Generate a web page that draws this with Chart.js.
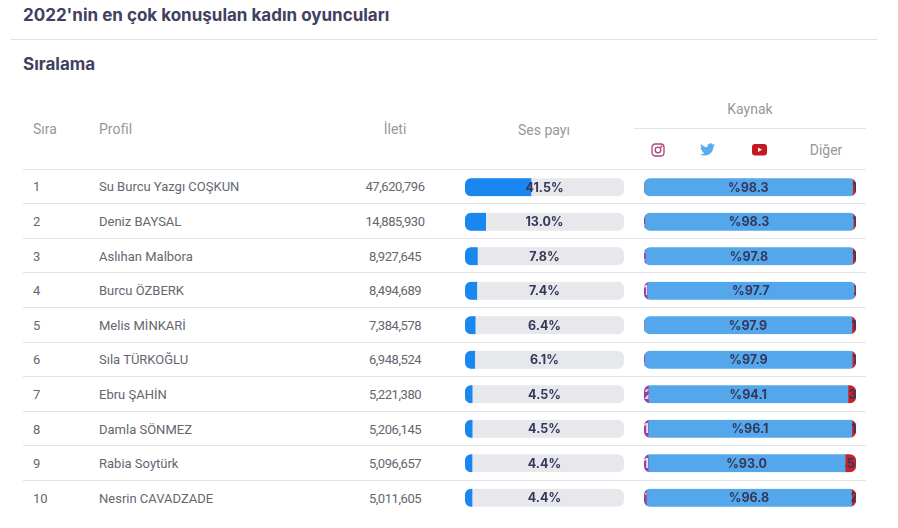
<!DOCTYPE html>
<html lang="tr">
<head>
<meta charset="utf-8">
<title>2022'nin en çok konuşulan kadın oyuncuları</title>
<script src="https://cdn.jsdelivr.net/npm/chart.js@4"></script>
<style>
  html, body { margin: 0; padding: 0; background: #fff; }
  #page { position: relative; width: 898px; height: 528px; overflow: hidden; font-family: Roboto, sans-serif; }
  #page > div, #page > svg, #page > canvas { position: absolute; }
  .heading { font-family: Inter, sans-serif; font-weight: 700; color: #3f4160; white-space: nowrap; font-size: 17px; line-height: 20px; }
  .head { font-size: 14px; color: #97979c; transform: translate(-50%, -50%); white-space: nowrap; }
  .head.left { transform: translate(0, -50%); }
  .cell { font-size: 13px; color: #666670; transform: translate(0, -50%); white-space: nowrap; }
  .cell.mid { transform: translate(-50%, -50%); letter-spacing: -0.45px; }
  .rule { background: #e2e2e4; height: 1px; }
</style>
</head>
<body>
<div id="page">
  <div class="heading" style="left:23px;top:5px">2022'nin en çok konuşulan kadın oyuncuları</div>
  <div class="rule" style="left:11px;top:39px;width:866px"></div>
  <div class="heading" style="left:23px;top:54px">Sıralama</div>

  <div class="head left" style="left:33px;top:129px">Sıra</div>
  <div class="head left" style="left:99px;top:129px">Profil</div>
  <div class="head" style="left:395px;top:129px">İleti</div>
  <div class="head" style="left:544px;top:130px">Ses payı</div>
  <div class="head" style="left:750px;top:109px">Kaynak</div>
  <div class="rule" style="left:634px;top:128px;width:232px"></div>
  <div class="head" style="left:826px;top:150px">Diğer</div>

  <svg style="left:651px;top:143px" width="14" height="14" viewBox="0 0 14 14" fill="none" stroke="#a8467f" stroke-width="1.3">
    <rect x="1" y="1" width="12" height="12" rx="3.2"/><circle cx="7" cy="7" r="2.8"/><circle cx="10.4" cy="3.6" r="0.5"/>
  </svg>
  <svg style="left:700px;top:142px" width="15" height="15" viewBox="0 0 24 24" fill="#55acee">
    <path d="M23.953 4.57a10 10 0 01-2.825.775 4.958 4.958 0 002.163-2.723c-.951.555-2.005.959-3.127 1.184a4.92 4.92 0 00-8.384 4.482C7.69 8.095 4.067 6.13 1.64 3.162a4.822 4.822 0 00-.666 2.475c0 1.71.87 3.213 2.188 4.096a4.904 4.904 0 01-2.228-.616v.06a4.923 4.923 0 003.946 4.827 4.996 4.996 0 01-2.212.085 4.936 4.936 0 004.604 3.417 9.867 9.867 0 01-6.102 2.105c-.39 0-.779-.023-1.17-.067a13.995 13.995 0 007.557 2.209c9.053 0 13.998-7.496 13.998-13.985 0-.21 0-.42-.015-.63A9.935 9.935 0 0024 4.59z"/>
  </svg>
  <svg style="left:752px;top:144px" width="15" height="12" viewBox="0 0 15 12">
    <rect x="0" y="0" width="15" height="11.5" rx="3" fill="#c4191f"/><path d="M6 3.4 L10 5.75 L6 8.1 Z" fill="#fff"/>
  </svg>

  <canvas id="share-chart" width="159" height="345" style="left:465px;top:170px"></canvas>
  <canvas id="source-chart" width="212" height="345" style="left:644px;top:170px"></canvas>
</div>

<script>
const ranks = [1, 2, 3, 4, 5, 6, 7, 8, 9, 10];
const profiles = ['Su Burcu Yazgı COŞKUN', 'Deniz BAYSAL', 'Aslıhan Malbora', 'Burcu ÖZBERK', 'Melis MİNKARİ',
    'Sıla TÜRKOĞLU', 'Ebru ŞAHİN', 'Damla SÖNMEZ', 'Rabia Soytürk', 'Nesrin CAVADZADE'];
const posts = ['47,620,796', '14,885,930', '8,927,645', '8,494,689', '7,384,578',
    '6,948,524', '5,221,380', '5,206,145', '5,096,657', '5,011,605'];
const shareValues = [41.5, 13.0, 7.8, 7.4, 6.4, 6.1, 4.5, 4.5, 4.4, 4.4];
const shareTrack = [100, 100, 100, 100, 100, 100, 100, 100, 100, 100];
const instagramValues = [0.05, 0.4, 0.6, 1.5, 0.1, 0.3, 2.1, 1.9, 1.9, 1.1];
const twitterValues = [98.3, 98.3, 97.8, 97.7, 97.9, 97.9, 94.1, 96.1, 93.0, 96.8];
const youtubeValues = [1.6, 1.2, 1.5, 0.7, 1.9, 1.7, 3.7, 1.9, 5.0, 2.0];
const otherValues = [0.05, 0.1, 0.1, 0.1, 0.1, 0.1, 0.1, 0.1, 0.1, 0.1];

const rowTop = 169.5;
const rowHeight = 34.6;
const barFont = '700 12.5px Inter, sans-serif';
const barText = '#35375a';

// table text and row lines
const page = document.getElementById('page');
function addDiv(cls, left, top, text) {
    const d = document.createElement('div');
    d.className = cls;
    d.style.left = left + 'px';
    d.style.top = top + 'px';
    if (text !== undefined) d.textContent = text;
    page.appendChild(d);
    return d;
}
ranks.forEach(function(r, i) {
    const mid = rowTop + rowHeight * (i + 0.5) - 0.5;
    addDiv('rule', 23, Math.round(rowTop + rowHeight * i) - 1).style.width = '843px';
    addDiv('cell', 33, mid, r);
    addDiv('cell', 99, mid, profiles[i]);
    addDiv('cell mid', 395, mid, posts[i]);
});

function hiddenScales(stacked) {
    return {
        x: { display: false, min: 0, max: 100, stacked: stacked },
        y: { display: false, stacked: stacked }
    };
}

// every row is clipped to one rounded pill
function clipToPills(chart) {
    const ctx = chart.ctx;
    const x = chart.scales.x;
    const y = chart.scales.y;
    ctx.save();
    ctx.beginPath();
    ranks.forEach(function(r, i) {
        ctx.roundRect(x.getPixelForValue(0), y.getPixelForValue(i) - 9, x.getPixelForValue(100) - x.getPixelForValue(0), 18, 6);
    });
    ctx.clip();
}

// percentage text in the middle of the share bars
const shareLabels = {
    id: 'shareLabels',
    beforeDatasetsDraw: clipToPills,
    afterDatasetsDraw: function(chart) {
        const ctx = chart.ctx;
        ctx.font = barFont;
        ctx.fillStyle = barText;
        ctx.textAlign = 'center';
        ctx.textBaseline = 'middle';
        shareValues.forEach(function(v, i) {
            ctx.fillText(v.toFixed(1) + '%', chart.width / 2, chart.scales.y.getPixelForValue(i) + 0.5);
        });
        ctx.restore();
    }
};

new Chart(document.getElementById('share-chart'), {
    type: 'bar',
    data: {
        labels: profiles,
        datasets: [
            { label: 'Ses payı', data: shareValues, backgroundColor: '#1a87f0', barThickness: 18, order: 1 },
            { label: 'Kalan', data: shareTrack, backgroundColor: '#e7e8ec', barThickness: 18, order: 2 }
        ]
    },
    options: {
        indexAxis: 'y',
        responsive: false,
        animation: false,
        layout: { padding: 0 },
        grouped: false,
        scales: hiddenScales(false),
        plugins: { legend: { display: false }, tooltip: { enabled: false } }
    },
    plugins: [shareLabels]
});

// each segment carries its own label, cut off by the segment's width
const segmentLabels = {
    id: 'segmentLabels',
    beforeDatasetsDraw: clipToPills,
    afterDatasetsDraw: function(chart) {
        const ctx = chart.ctx;
        ctx.font = barFont;
        ctx.textAlign = 'center';
        ctx.textBaseline = 'middle';
        chart.data.datasets.forEach(function(ds, d) {
            ctx.fillStyle = d === 0 ? '#eadff0' : barText;
            chart.getDatasetMeta(d).data.forEach(function(bar, i) {
                ctx.save();
                ctx.beginPath();
                ctx.rect(bar.base, bar.y - 9, bar.x - bar.base, 18);
                ctx.clip();
                ctx.fillText('%' + ds.data[i].toFixed(1), (bar.base + bar.x) / 2, bar.y + 0.5);
                ctx.restore();
            });
        });
        ctx.restore();
    }
};

new Chart(document.getElementById('source-chart'), {
    type: 'bar',
    data: {
        labels: profiles,
        datasets: [
            { label: 'Instagram', data: instagramValues, backgroundColor: '#9a3f9c', barThickness: 18 },
            { label: 'Twitter', data: twitterValues, backgroundColor: '#55a7ec', barThickness: 18 },
            { label: 'YouTube', data: youtubeValues, backgroundColor: '#c4242c', barThickness: 18 },
            { label: 'Diğer', data: otherValues, backgroundColor: '#8a8a94', barThickness: 18 }
        ]
    },
    options: {
        indexAxis: 'y',
        responsive: false,
        animation: false,
        layout: { padding: 0 },
        scales: hiddenScales(true),
        plugins: { legend: { display: false }, tooltip: { enabled: false } }
    },
    plugins: [segmentLabels]
});
</script>
</body>
</html>
